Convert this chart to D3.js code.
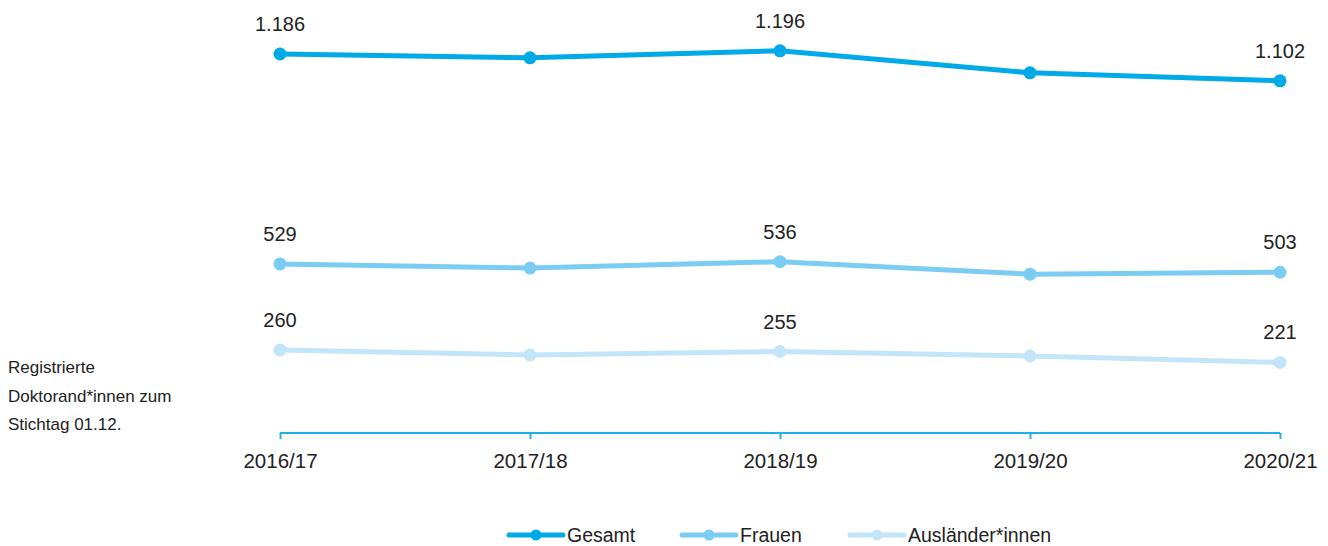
<!DOCTYPE html>
<html>
<head>
<meta charset="utf-8">
<script src="https://cdn.jsdelivr.net/npm/d3@7"></script>
<style>
  body { margin: 0; background: #fff; }
  text { font-family: "Liberation Sans", Arial, sans-serif; fill: #222; }
</style>
</head>
<body>
<svg id="chart" width="1328" height="546"></svg>
<script>
var years = ["2016/17", "2017/18", "2018/19", "2019/20", "2020/21"];
var gesamt = [1186, 1174, 1196, 1127, 1102];
var frauen = [529, 516, 536, 497, 503];
var auslaender = [260, 244, 255, 241, 221];
var seriesNames = ["Gesamt", "Frauen", "Ausländer*innen"];
var seriesColors = ["#00aae7", "#7accf3", "#c2e5f9"];
var labelIdx = [0, 2, 4];

var series = [gesamt, frauen, auslaender];
var svg = d3.select("#chart");

var x = d3.scalePoint().domain(years).range([280, 1280]);
var y = d3.scaleLinear().domain([0, 1186]).range([433, 54]);

// x axis
var axis = svg.append("g")
    .attr("transform", "translate(0,433)")
    .call(d3.axisBottom(x).tickSize(6).tickSizeOuter(0).tickPadding(14));
axis.select(".domain").attr("stroke", "#1fb0e8").attr("stroke-width", 2)
    .attr("d", "M" + x(years[0]) + ",0H" + x(years[years.length - 1]));
axis.selectAll(".tick line").attr("stroke", "#1fb0e8").attr("stroke-width", 2);
axis.selectAll(".tick text").style("font-size", "20.5px").attr("fill", "#222")
    .style("font-family", "'Liberation Sans', Arial, sans-serif");

var line = d3.line()
    .x(function (d, i) { return x(years[i]); })
    .y(function (d) { return y(d); });

var fmt = d3.formatLocale({ decimal: ",", thousands: ".", grouping: [3], currency: ["", "€"] }).format(",d");

series.forEach(function (vals, s) {
    var g = svg.append("g");
    g.append("path")
        .datum(vals)
        .attr("fill", "none")
        .attr("stroke", seriesColors[s])
        .attr("stroke-width", 5)
        .attr("d", line);
    g.selectAll("circle")
        .data(vals)
        .enter().append("circle")
        .attr("cx", function (d, i) { return x(years[i]); })
        .attr("cy", function (d) { return y(d); })
        .attr("r", 6.5)
        .attr("fill", seriesColors[s]);
    g.selectAll("text")
        .data(labelIdx)
        .enter().append("text")
        .attr("x", function (i) { return x(years[i]); })
        .attr("y", function (i) { return y(vals[i]) - 23; })
        .attr("text-anchor", "middle")
        .style("font-size", "20px")
        .text(function (i) { return fmt(vals[i]); });
});

// side note
var note = ["Registrierte", "Doktorand*innen zum", "Stichtag 01.12."];
svg.append("g").selectAll("text")
    .data(note)
    .enter().append("text")
    .attr("x", 8)
    .attr("y", function (d, i) { return 373 + i * 28.5; })
    .style("font-size", "17px")
    .attr("fill", "#333")
    .text(function (d) { return d; });

// legend
var legendX = [509, 682, 850];
var leg = svg.append("g");
seriesNames.forEach(function (name, i) {
    var lg = leg.append("g").attr("transform", "translate(" + legendX[i] + ",535)");
    lg.append("line").attr("x1", 0).attr("x2", 54).attr("y1", 0).attr("y2", 0)
        .attr("stroke", seriesColors[i]).attr("stroke-width", 5).attr("stroke-linecap", "round");
    lg.append("circle").attr("cx", 27).attr("cy", 0).attr("r", 5.5).attr("fill", seriesColors[i]);
    lg.append("text").attr("x", 58).attr("y", 7).style("font-size", "19.5px").text(name);
});
</script>
</body>
</html>
